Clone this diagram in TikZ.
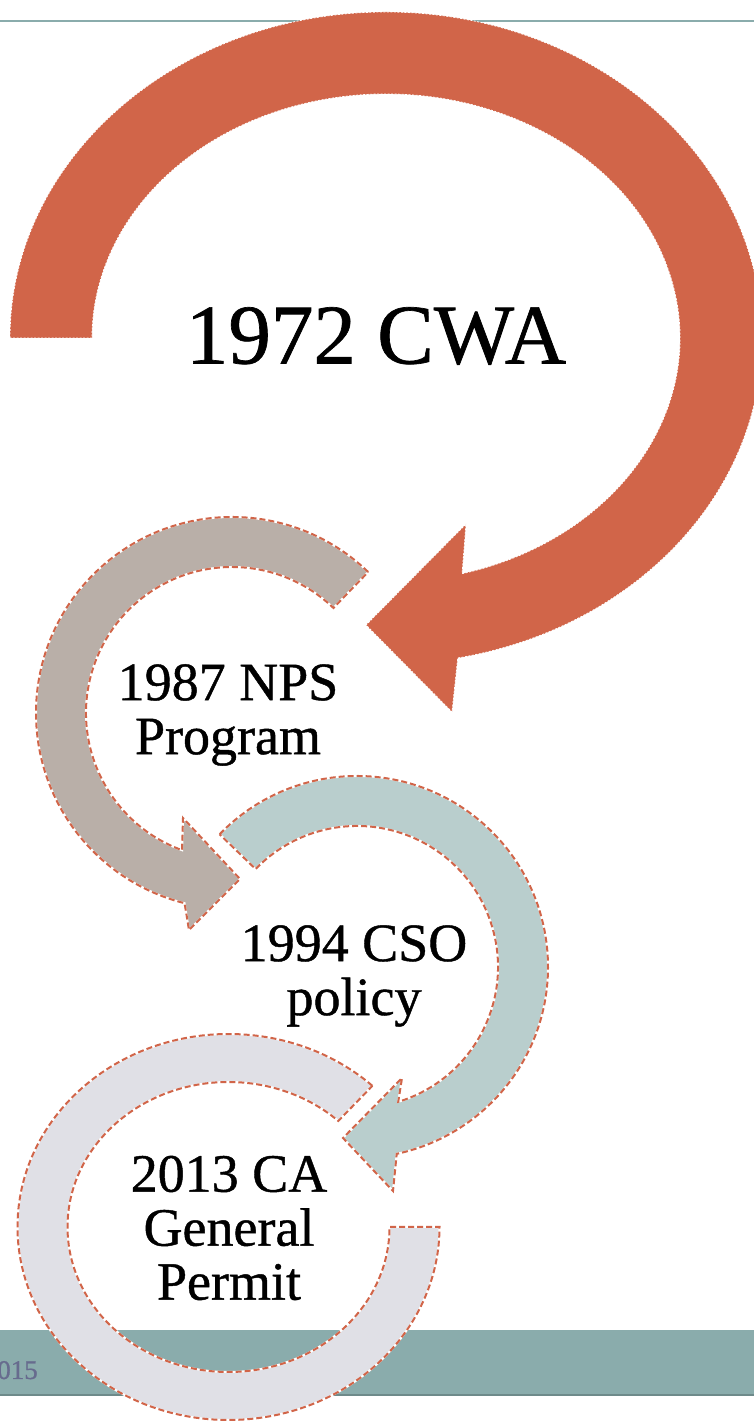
\documentclass[tikz,border=0pt]{standalone}
\usepackage{fontspec}
\setmainfont{Liberation Serif}[FakeBold=0.8]
\usetikzlibrary{calc}
\definecolor{cwared}{RGB}{209,101,73}
\definecolor{npstaupe}{RGB}{185,175,168}
\definecolor{csoteal}{RGB}{185,206,205}
\definecolor{cagrey}{RGB}{224,224,230}
\definecolor{bandteal}{RGB}{138,172,172}
\definecolor{footgrey}{RGB}{103,107,142}

\begin{document}
\begin{tikzpicture}[x=1pt, y=1pt,
  bigring/.style={fill=cwared, draw=white, line width=0.8pt,
                  dash pattern=on 2pt off 1.5pt},
  ring/.style={draw=white, line width=2pt,
               postaction={draw=cwared, line width=2pt,
                           dash pattern=on 6pt off 3pt}},
  caption/.style={align=center, inner sep=0pt,
                  font=\fontsize{54}{54}\selectfont},
  ]
  \useasboundingbox (0,0) rectangle (754,1421);

  % header rule and footer band
  \draw[bandteal, line width=2pt] (0,1400) -- (754,1400);
  \fill[bandteal] (0,25) rectangle (754,91);
  \draw[bandteal!80!black, line width=1.5pt] (0,25.75) -- (754,25.75);
  \node[anchor=base east, inner sep=0pt, text=footgrey,
        font=\fontsize{27}{27}\selectfont] (year) at (38,42) {2015};

  % ring centres
  \coordinate (cwa) at (386,1083);
  \coordinate (nps) at (232,708);
  \coordinate (cso) at (357,454);
  \coordinate (ca)  at (228.5,194);

  % 1972 CWA
  \path[bigring] ($(cwa)+(180:376 and 326)$)
    arc[start angle=180, end angle=-79, x radius=376, y radius=326]
    -- (452,709) -- (366,796) -- (466,897)
    -- ($(cwa)+(-75:294 and 244)$)
    arc[start angle=-75, end angle=180, x radius=294, y radius=244] -- cycle;

  % 1987 NPS
  \path[ring, fill=npstaupe] ($(nps)+(46:196)$)
    arc[start angle=46, end angle=256, radius=196]
    -- (189,491) -- (240,542) -- (183,603)
    -- ($(nps)+(250:146)$)
    arc[start angle=250, end angle=46, radius=146] -- cycle;

  % 1994 CSO
  \path[ring, fill=csoteal] ($(cso)+(136:191)$)
    arc[start angle=136, end angle=-78, radius=191]
    -- (393,230) -- (343,283) -- (402,343)
    -- ($(cso)+(-73:141)$)
    arc[start angle=-73, end angle=136, radius=141] -- cycle;

  % 2013 CA, no head
  \path[ring, fill=cagrey] ($(ca)+(47:211 and 193)$)
    arc[start angle=47, end angle=360, x radius=211, y radius=193]
    -- ($(ca)+(0:161 and 145)$)
    arc[start angle=360, end angle=47, x radius=161, y radius=145] -- cycle;

  \node[caption, font=\fontsize{85}{85}\selectfont] (cwatext) at (376,1085) {1972 CWA};
  \node[caption] (npstext) at (228,706) {1987 NPS\\Program};
  \node[caption] (csotext) at (354,445) {1994 CSO\\policy};
  \node[caption] (catext) at (229,193) {2013 CA\\General\\Permit};
\end{tikzpicture}
\end{document}
